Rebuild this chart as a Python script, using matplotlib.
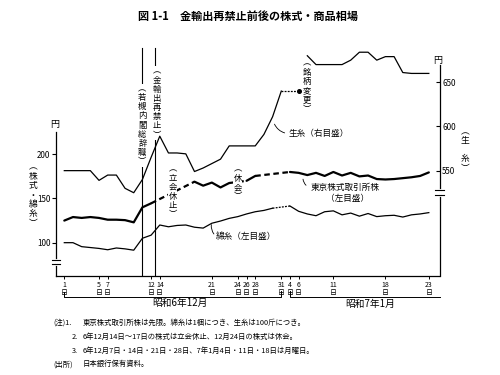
import numpy as np
import matplotlib
matplotlib.use('Agg')
import matplotlib.pyplot as plt
import matplotlib.transforms as mtransforms

plt.rcParams['font.family'] = ['Noto Sans CJK JP', 'DejaVu Sans']

# ---------------- data ----------------
dec_days = [1, 2, 3, 4, 5, 7, 8, 9, 10, 11, 12, 14, 15, 16, 17, 18, 19, 21, 22, 23,
            24, 26, 28, 29, 30, 31]
jan_days = [4, 6, 7, 8, 9, 11, 12, 13, 14, 15, 16, 18, 19, 20, 21, 22, 23]

# 東京株式取引所株 (left scale); None = no trading
stock = [125, 129, 128, 129, 128, 126, 126, 125.5, 123, 140, 144.5,
         None, None, None, None,
         169, 164.5, 168, 162.5, 167.5, None, 170, 175.5, None, None, None,
         180, 179, 176.5, 179, 175.5, 180, 176, 179, 175, 176, 172, 171.5,
         172, 173, 174, 175.5, 179.5]

# 綿糸 (left scale)
cotton = [100, 100, 95.5, 94.5, 93.5, 92, 94, 93, 91.5, 105, 108.5, 120, 118,
          119.5, 120, 117.5, 116.5, 122, 124.5, 127.5, 129.5, 132.5, 135, 136.5,
          139, None,
          141.5, 135.5, 132.5, 130.5, 135, 136, 131.5, 133.5, 130, 133, 129.5,
          130.5, 131, 129, 131.5, 132.5, 134]

# 生糸 (right scale): old brand Dec 1 - Jan 6, new brand Jan 7 - Jan 23
silk_old = [550, 550, 550, 550, 539, 545, 545, 530, 525, 540, 565, 589, 570,
            570, 569, 549, 553, 558, 563, 578, 578, 578, 578, 591, 611, 640,
            None, 640]
silk_new = [680, 670, 670, 670, 670, 675, 684, 684, 675, 679, 679, 661, 660,
            660, 660]

dec_ticks = [1, 5, 7, 12, 14, 21, 24, 26, 28, 31]
jan_ticks = [4, 6, 11, 18, 23]

left_ticks = [100, 150, 200]
right_ticks = [550, 600, 650]

notes = [
    ("(注)1.", "東京株式取引所株は先限。綿糸は1梱につき、生糸は100斤につき。"),
    ("2.", "6年12月14日～17日の株式は立会休止、12月24日の株式は休会。"),
    ("3.", "6年12月7日・14日・21日・28日、7年1月4日・11日・18日は月曜日。"),
    ("(出所)", "日本銀行保有資料。"),
]

# ---------------- helpers ----------------
n = len(dec_days) + len(jan_days)
xs = np.arange(n)


def pos_dec(d):
    return dec_days.index(d)


def pos_jan(d):
    return len(dec_days) + jan_days.index(d)


def to_arr(v):
    return np.array([np.nan if a is None else a for a in v], dtype=float)


def gap_pairs(x, y):
    ok = np.where(~np.isnan(y))[0]
    pairs = []
    for a, b in zip(ok[:-1], ok[1:]):
        if b - a > 1:
            pairs.append(((x[a], x[b]), (y[a], y[b])))
    return pairs


OFFSET = 368.5
YL = (62.3, 329.3)

fig = plt.figure(figsize=(5, 3.75), dpi=100)
ax = fig.add_axes([0.112, 0.264, 0.767, 0.6293])
ax2 = ax.twinx()
ax.set_xlim(-0.956, 43.23)
ax.set_ylim(*YL)
ax2.set_ylim(YL[0] + OFFSET, YL[1] + OFFSET)

# spines
for s in ['top', 'right']:
    ax.spines[s].set_visible(False)
for s in ['top', 'left', 'bottom']:
    ax2.spines[s].set_visible(False)
ax.spines['left'].set_bounds(YL[0], 225)
ax2.spines['right'].set_bounds(YL[0] + OFFSET, 670)
for sp in [ax.spines['left'], ax.spines['bottom'], ax2.spines['right']]:
    sp.set_linewidth(0.9)

# ---- series ----
ys = to_arr(stock)
ax.plot(xs, ys, color='black', lw=1.6, solid_capstyle='round', zorder=3)
for px, py in gap_pairs(xs, ys):
    ax.plot(px, py, color='black', lw=1.6, ls=(0, (2.5, 1.6)), zorder=3)

yc = to_arr(cotton)
ax.plot(xs, yc, color='black', lw=0.9, zorder=3)
for px, py in gap_pairs(xs, yc):
    ax.plot(px, py, color='black', lw=0.9, ls=(0, (1.5, 1.0)), zorder=3)

yso = to_arr(silk_old)
xso = xs[:len(silk_old)]
ax2.plot(xso, yso, color='black', lw=0.9, zorder=3)
for px, py in gap_pairs(xso, yso):
    ax2.plot(px, py, color='black', lw=0.9, ls=(0, (1.5, 1.0)), zorder=3)
ax2.plot(xso[-1], yso[-1], 'o', color='black', ms=2.6, zorder=4)
xsn = xs[len(silk_old):len(silk_old) + len(silk_new)]
ax2.plot(xsn, silk_new, color='black', lw=0.9, zorder=3)

# ---- ticks ----
ax.set_yticks(left_ticks)
ax.set_yticklabels([str(v) for v in left_ticks])
ax.tick_params(axis='y', direction='out', length=3, width=0.8, pad=1,
               labelsize=5.8)
ax2.set_yticks(right_ticks)
ax2.set_yticklabels([str(v) for v in right_ticks])
ax2.tick_params(axis='y', direction='in', length=3, width=0.8, pad=2,
                labelsize=5.8)

tpos = [pos_dec(d) for d in dec_ticks] + [pos_jan(d) for d in jan_ticks]
tlab = [f"{d}\n日" for d in dec_ticks + jan_ticks]
ax.set_xticks(tpos)
ax.set_xticklabels(tlab, linespacing=0.95)
ax.tick_params(axis='x', direction='out', length=2.5, width=0.7, pad=1,
               labelsize=5)

# ---- axis breaks ----
def axis_break(a, xfrac, yval):
    tr = mtransforms.blended_transform_factory(a.transAxes, a.transData)
    d = 2.6
    a.plot([xfrac, xfrac], [yval - d, yval + d], color='white', lw=2,
           transform=tr, clip_on=False, zorder=5)
    for yy in (yval - d, yval + d):
        a.plot([xfrac - 0.011, xfrac + 0.011], [yy, yy], color='black', lw=0.8,
               transform=tr, clip_on=False, zorder=6)


axis_break(ax, 0.0, 78.2)
axis_break(ax2, 1.0, 525.1)

# ---- event lines ----
ev1 = pos_dec(11)
ev2 = (pos_dec(12) + pos_dec(14)) / 2
for ev in (ev1, ev2):
    ax.axvline(ev, ymin=0, ymax=0.966, color='black', lw=0.8, zorder=2)

box = dict(facecolor='white', edgecolor='none', pad=0.3)


def vtext(x, y, s, fs=6.0, ls=1.02, bbox=True):
    t = "\n".join(list(s))
    ax.text(x, y, t, ha='center', va='center', fontsize=fs, linespacing=ls,
            bbox=box if bbox else None, zorder=7)


vtext(ev1, 233, "︵若槻内閣総辞職︶")
vtext(ev2 + 0.15, 258, "︵金輸出再禁止︶")
vtext(12.5, 157.5, "︵立会休止︶")
vtext(20.0, 167.5, "︵休会︶")
vtext(28.0, 277, "︵銘柄変更︶")

# ---- series labels with leaders ----
ax.text(25.8, 223.5, "生糸（右目盛）", fontsize=6.2, ha='left', va='center')
ax.annotate('', xy=(24.1, 237), xytext=(25.7, 223.5),
            arrowprops=dict(arrowstyle='-', lw=0.6,
                            connectionstyle='arc3,rad=-0.3'))
ax.text(32.4, 162, "東京株式取引所株", fontsize=6.2, ha='center', va='center')
ax.text(32.6, 149.5, "（左目盛）", fontsize=6.2, ha='center', va='center')
ax.annotate('', xy=(27.5, 175), xytext=(28.1, 163),
            arrowprops=dict(arrowstyle='-', lw=0.6,
                            connectionstyle='arc3,rad=-0.3'))
ax.text(17.4, 106.5, "綿糸（左目盛）", fontsize=6.2, ha='left', va='center')
ax.annotate('', xy=(17.0, 123.5), xytext=(17.45, 107.5),
            arrowprops=dict(arrowstyle='-', lw=0.6,
                            connectionstyle='arc3,rad=-0.3'))

# ---- unit labels ----
fig.text(0.11, 0.667, "円", fontsize=6.5, ha='center', va='center')
fig.text(0.876, 0.84, "円", fontsize=6.5, ha='center', va='center')
fig.text(0.066, 0.48, "\n".join("︵株式・綿糸︶"), fontsize=6.3,
         ha='center', va='center', linespacing=1.05)
fig.text(0.93, 0.6, "\n".join("︵生") + "\n\n" + "\n".join("糸︶"),
         fontsize=6.3, ha='center', va='center', linespacing=1.0)

# ---- month brackets ----
trb = mtransforms.blended_transform_factory(ax.transData, fig.transFigure)
x0, x1 = pos_dec(1), pos_dec(31)
ax.plot([x0, x0, x1, x1], [0.2213, 0.2088, 0.2088, 0.2248], color='black',
        lw=0.7, transform=trb, clip_on=False)
j0 = pos_jan(4)
ax.plot([j0, j0, 43.3], [0.2248, 0.2088, 0.2088], color='black', lw=0.7,
        transform=trb, clip_on=False)
fig.text(0.36, 0.192, "昭和6年12月", fontsize=7, ha='center', va='center')
fig.text(0.74, 0.19, "昭和7年1月", fontsize=7, ha='center', va='center')

# ---- title ----
fig.text(0.497, 0.957, "図 1-1　金輸出再禁止前後の株式・商品相場", fontsize=8,
         fontweight='bold', ha='center', va='center')

# ---- notes ----
note_y = [0.139, 0.101, 0.064, 0.029]
for (head, body), yy in zip(notes, note_y):
    if head.startswith("("):
        fig.text(0.106, yy, head, fontsize=5.3, ha='left', va='center')
    else:
        fig.text(0.156, yy, head, fontsize=5.3, ha='right', va='center')
    fig.text(0.166, yy, body, fontsize=5.3, ha='left', va='center')

fig.savefig('out.png', dpi=100)
